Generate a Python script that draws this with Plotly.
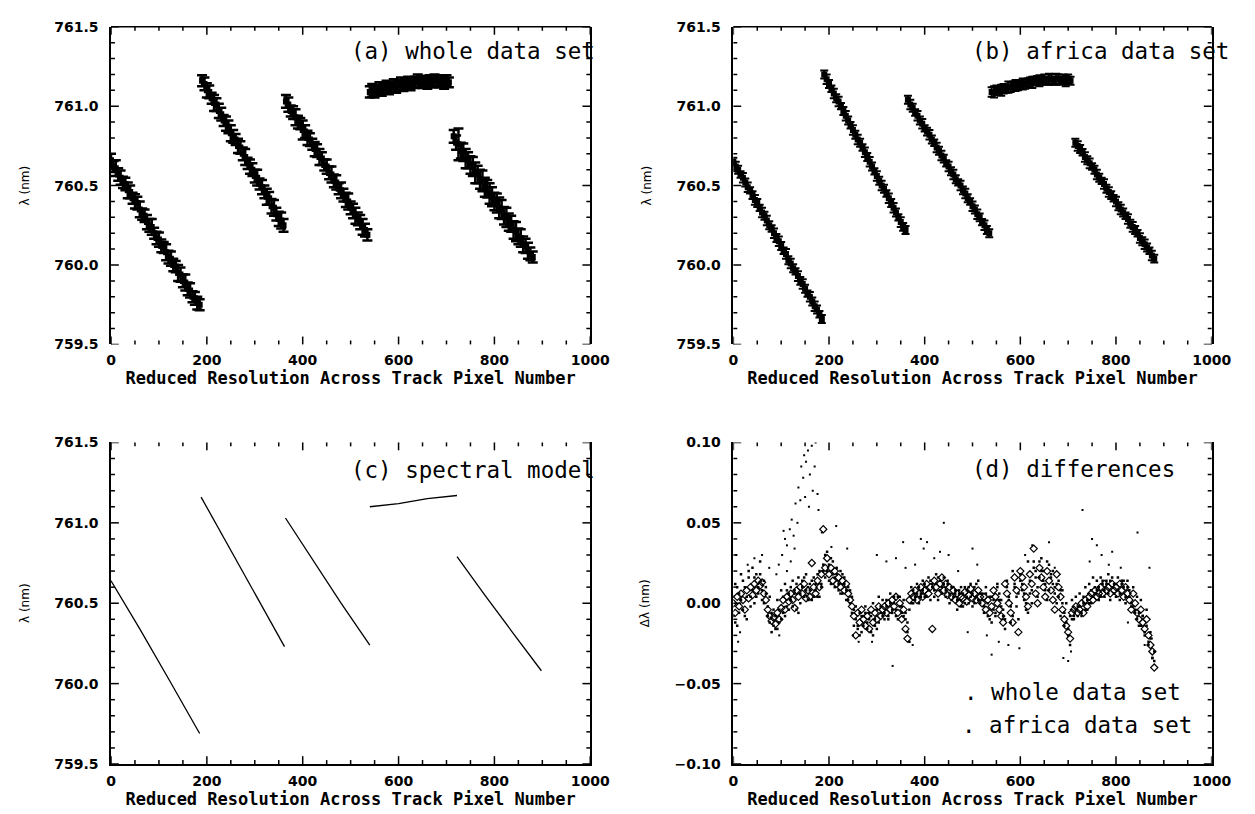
import plotly.graph_objects as go

# ---------------- data ----------------
# across-track pixel positions of the fitted line positions (panels a, b)
pix_x = list(range(0, 710, 5)) + list(range(715, 885, 5))

# (a) whole data set: fitted O2-A line position (nm) and its uncertainty
whole_lambda = [
    760.66, 760.62, 760.61, 760.57, 760.55, 760.52, 760.51, 760.47, 760.46, 760.42,
    760.40, 760.39, 760.35, 760.32, 760.31, 760.27, 760.25, 760.24, 760.20, 760.17,
    760.16, 760.12, 760.11, 760.08, 760.05, 760.04, 760.00, 759.99, 759.95, 759.94,
    759.90, 759.89, 759.85, 759.84, 759.80, 759.79, 759.76, 759.75,
    761.16, 761.14, 761.10, 761.09, 761.05, 761.02, 761.01, 760.97, 760.95, 760.91,
    760.89, 760.87, 760.83, 760.81, 760.79, 760.75, 760.74, 760.70, 760.68, 760.64,
    760.62, 760.60, 760.56, 760.55, 760.51, 760.49, 760.46, 760.43, 760.42, 760.37,
    760.36, 760.32, 760.29, 760.28, 760.25,
    761.03, 761.01, 760.97, 760.96, 760.93, 760.90, 760.89, 760.85, 760.84, 760.80,
    760.79, 760.76, 760.73, 760.72, 760.68, 760.67, 760.63, 760.62, 760.58, 760.57,
    760.53, 760.52, 760.48, 760.47, 760.44, 760.41, 760.40, 760.36, 760.34, 760.31,
    760.29, 760.27, 760.24, 760.22, 760.19,
    761.09, 761.10, 761.09, 761.10, 761.11, 761.10, 761.11, 761.12, 761.11, 761.12,
    761.13, 761.12, 761.13, 761.14, 761.13, 761.14, 761.15, 761.14, 761.15, 761.15,
    761.16, 761.15, 761.15, 761.16, 761.15, 761.16, 761.15, 761.16, 761.16, 761.15,
    761.16, 761.15, 761.16, 761.15,
    760.81, 760.77, 760.76, 760.72, 760.71, 760.67, 760.66, 760.63, 760.62, 760.58,
    760.57, 760.54, 760.53, 760.49, 760.48, 760.45, 760.43, 760.40, 760.39, 760.36,
    760.35, 760.31, 760.30, 760.27, 760.26, 760.22, 760.21, 760.18, 760.17, 760.13,
    760.12, 760.09, 760.07, 760.05,
]
whole_err = [
    0.04, 0.035, 0.05, 0.04, 0.045, 0.035, 0.04, 0.05, 0.04, 0.035,
    0.045, 0.04, 0.05, 0.035, 0.04, 0.045, 0.04, 0.05, 0.035, 0.04,
    0.045, 0.04, 0.035, 0.05, 0.04, 0.045, 0.04, 0.035, 0.05, 0.045,
    0.04, 0.05, 0.04, 0.045, 0.035, 0.04, 0.04, 0.035,
    0.035, 0.04, 0.045, 0.04, 0.035, 0.05, 0.04, 0.045, 0.04, 0.035,
    0.045, 0.04, 0.05, 0.04, 0.035, 0.045, 0.04, 0.04, 0.05, 0.035,
    0.045, 0.04, 0.04, 0.05, 0.035, 0.045, 0.04, 0.05, 0.04, 0.045,
    0.05, 0.04, 0.045, 0.05, 0.04,
    0.04, 0.045, 0.035, 0.04, 0.05, 0.04, 0.035, 0.06, 0.04, 0.045,
    0.04, 0.035, 0.045, 0.04, 0.05, 0.04, 0.035, 0.045, 0.04, 0.05,
    0.04, 0.045, 0.035, 0.05, 0.04, 0.045, 0.05, 0.04, 0.045, 0.05,
    0.04, 0.045, 0.05, 0.04, 0.035,
    0.035, 0.04, 0.035, 0.03, 0.04, 0.035, 0.03, 0.04, 0.035, 0.03,
    0.04, 0.035, 0.03, 0.04, 0.035, 0.03, 0.035, 0.04, 0.03, 0.035,
    0.04, 0.03, 0.035, 0.03, 0.04, 0.035, 0.03, 0.04, 0.035, 0.03,
    0.035, 0.04, 0.035, 0.03,
    0.04, 0.045, 0.10, 0.05, 0.055, 0.06, 0.05, 0.055, 0.06, 0.065,
    0.055, 0.06, 0.065, 0.06, 0.055, 0.065, 0.06, 0.055, 0.06, 0.065,
    0.06, 0.055, 0.06, 0.055, 0.05, 0.055, 0.06, 0.05, 0.055, 0.05,
    0.045, 0.05, 0.04, 0.035,
]

# (b) africa data set
africa_lambda = [
    760.65, 760.62, 760.60, 760.57, 760.55, 760.52, 760.49, 760.47, 760.44, 760.41,
    760.39, 760.36, 760.33, 760.31, 760.28, 760.25, 760.23, 760.20, 760.17, 760.15,
    760.12, 760.09, 760.07, 760.03, 760.01, 759.98, 759.96, 759.93, 759.90, 759.88,
    759.85, 759.82, 759.80, 759.77, 759.74, 759.72, 759.69, 759.66,
    761.20, 761.17, 761.14, 761.11, 761.08, 761.05, 761.03, 761.00, 760.97, 760.94,
    760.91, 760.88, 760.85, 760.82, 760.79, 760.77, 760.74, 760.71, 760.68, 760.65,
    760.62, 760.59, 760.56, 760.53, 760.50, 760.48, 760.45, 760.42, 760.39, 760.36,
    760.33, 760.30, 760.27, 760.24, 760.22,
    761.04, 761.01, 760.99, 760.96, 760.94, 760.91, 760.89, 760.86, 760.84, 760.82,
    760.79, 760.77, 760.74, 760.72, 760.69, 760.67, 760.64, 760.62, 760.59, 760.57,
    760.54, 760.52, 760.50, 760.47, 760.45, 760.42, 760.40, 760.37, 760.35, 760.32,
    760.30, 760.27, 760.25, 760.22, 760.20,
    761.09, 761.09, 761.10, 761.10, 761.10, 761.11, 761.11, 761.12, 761.12, 761.13,
    761.13, 761.13, 761.14, 761.14, 761.14, 761.15, 761.15, 761.15, 761.16, 761.16,
    761.16, 761.16, 761.17, 761.16, 761.17, 761.17, 761.16, 761.17, 761.17, 761.16,
    761.17, 761.16, 761.17, 761.16,
    760.77, 760.75, 760.73, 760.71, 760.68, 760.66, 760.64, 760.62, 760.60, 760.57,
    760.55, 760.53, 760.51, 760.48, 760.46, 760.44, 760.42, 760.40, 760.37, 760.35,
    760.33, 760.31, 760.29, 760.26, 760.24, 760.22, 760.20, 760.17, 760.15, 760.13,
    760.11, 760.09, 760.06, 760.04,
]
africa_err = [
    0.025, 0.03, 0.025, 0.02, 0.03, 0.025, 0.03, 0.02, 0.025, 0.03,
    0.025, 0.02, 0.03, 0.025, 0.03, 0.025, 0.02, 0.03, 0.025, 0.03,
    0.025, 0.02, 0.03, 0.025, 0.03, 0.025, 0.02, 0.03, 0.025, 0.03,
    0.025, 0.02, 0.03, 0.025, 0.03, 0.025, 0.02, 0.025,
    0.025, 0.03, 0.025, 0.02, 0.03, 0.025, 0.03, 0.02, 0.025, 0.03,
    0.025, 0.02, 0.03, 0.025, 0.03, 0.025, 0.02, 0.03, 0.025, 0.03,
    0.025, 0.02, 0.03, 0.025, 0.03, 0.025, 0.02, 0.03, 0.025, 0.03,
    0.025, 0.02, 0.03, 0.025, 0.025,
    0.025, 0.03, 0.025, 0.02, 0.03, 0.025, 0.03, 0.02, 0.025, 0.03,
    0.025, 0.02, 0.03, 0.025, 0.03, 0.025, 0.02, 0.03, 0.025, 0.03,
    0.025, 0.02, 0.03, 0.025, 0.03, 0.025, 0.02, 0.03, 0.025, 0.03,
    0.025, 0.02, 0.03, 0.025, 0.025,
    0.03, 0.035, 0.03, 0.025, 0.035, 0.03, 0.025, 0.035, 0.03, 0.025,
    0.035, 0.03, 0.025, 0.035, 0.03, 0.025, 0.03, 0.035, 0.025, 0.03,
    0.035, 0.025, 0.03, 0.025, 0.035, 0.03, 0.025, 0.035, 0.03, 0.025,
    0.03, 0.035, 0.03, 0.025,
    0.025, 0.03, 0.025, 0.02, 0.03, 0.025, 0.03, 0.02, 0.025, 0.03,
    0.025, 0.02, 0.03, 0.025, 0.03, 0.025, 0.02, 0.03, 0.025, 0.03,
    0.025, 0.02, 0.03, 0.025, 0.03, 0.025, 0.02, 0.03, 0.025, 0.03,
    0.025, 0.02, 0.03, 0.025,
]

# (c) spectral model (line segments, None = break between detector modules)
model_x = [0, 60, 120, 185, None, 188, 250, 300, 362, None,
           364, 420, 480, 540, None, 540, 600, 660, 722, None,
           722, 780, 840, 898]
model_y = [760.64, 760.34, 760.03, 759.69, None, 761.16, 760.83, 760.56, 760.23, None,
           761.03, 760.77, 760.50, 760.24, None, 761.10, 761.12, 761.15, 761.17, None,
           760.79, 760.55, 760.31, 760.08]

# (d) differences (nm) on a 4-pixel grid
diff_x = list(range(0, 884, 4))
diff_africa = [
    0.000, -0.006, 0.004, -0.002, 0.006, 0.002, -0.004, 0.008, 0.003, 0.010,
    0.005, 0.012, 0.008, 0.014, 0.011, 0.013, 0.006, 0.002, -0.004, -0.008,
    -0.011, -0.009, -0.013, -0.006, -0.010, -0.003, 0.002, -0.004, 0.004, 0.001,
    0.006, 0.002, -0.003, 0.008, 0.004, 0.010, 0.006, 0.012, 0.003, 0.008,
    0.004, 0.025, 0.010, 0.006, 0.014, 0.010, 0.018, 0.046, 0.022, 0.028,
    0.018, 0.022, 0.014, 0.020, 0.012, 0.016, 0.010, 0.014, 0.008, 0.012,
    0.006, 0.002, -0.002, -0.008, -0.020, -0.006, -0.012, -0.004, -0.010, -0.014,
    -0.008, -0.016, -0.004, -0.012, -0.006, -0.010, -0.002, -0.008, -0.004, -0.002,
    -0.006, 0.000, -0.004, 0.002, -0.002, 0.004, -0.006, 0.000, -0.010, -0.004,
    -0.016, -0.022, 0.002, 0.006, 0.004, 0.008, 0.002, 0.006, 0.010, 0.004,
    0.008, 0.012, 0.006, 0.010, -0.016, 0.014, 0.010, 0.006, 0.012, 0.016,
    0.008, 0.012, 0.005, 0.010, 0.004, 0.008, 0.002, 0.006, 0.000, 0.004,
    0.003, 0.007, 0.001, 0.005, 0.009, 0.003, 0.006, 0.002, 0.008, 0.004,
    0.000, 0.004, -0.004, 0.002, -0.006, -0.002, 0.008, 0.004, 0.000, -0.004,
    -0.008, -0.012, 0.012, 0.006, 0.000, -0.006, -0.012, 0.016, 0.008, -0.018,
    0.020, 0.016, 0.010, 0.004, -0.002, 0.018, 0.012, 0.034, 0.006, 0.000,
    0.022, 0.016, 0.010, 0.004, 0.020, 0.014, 0.008, 0.002, -0.004, 0.018,
    0.010, 0.004, -0.004, -0.010, -0.014, -0.018, -0.022, -0.006, -0.004, -0.002,
    -0.006, -0.004, 0.000, -0.006, 0.002, -0.002, 0.004, 0.006, 0.002, 0.008,
    0.004, 0.006, 0.010, 0.006, 0.012, 0.008, 0.010, 0.006, 0.012, 0.008,
    0.010, 0.006, 0.012, 0.008, 0.004, 0.010, 0.006, 0.002, -0.004, 0.006,
    0.000, -0.006, -0.010, -0.004, -0.012, -0.016, -0.010, -0.020, -0.026, -0.030,
    -0.040,
]
diff_whole = [
    -0.008, 0.012, -0.014, 0.006, 0.018, -0.004, 0.010, -0.010, 0.016, 0.004,
    0.022, 0.000, 0.018, 0.006, 0.026, 0.002, 0.014, 0.010, -0.002, 0.004,
    -0.018, -0.004, -0.016, 0.002, -0.012, 0.008, -0.006, 0.012, -0.002, 0.006,
    0.002, 0.014, 0.008, -0.004, 0.016, 0.000, 0.014, 0.004, 0.018, 0.010,
    0.012, 0.002, 0.016, 0.008, 0.004, 0.020, 0.012, 0.024, 0.016, 0.032,
    0.024, 0.012, 0.026, 0.010, 0.018, 0.008, 0.020, 0.006, 0.016, 0.002,
    0.010, 0.000, 0.004, -0.014, -0.002, -0.016, -0.006, -0.018, -0.008, -0.002,
    -0.012, -0.006, -0.018, 0.000, -0.010, -0.016, 0.004, -0.006, 0.002, -0.010,
    0.002, -0.008, 0.006, -0.004, 0.000, -0.008, 0.004, -0.002, -0.006, 0.002,
    -0.010, -0.018, -0.004, 0.010, 0.000, 0.004, 0.012, 0.000, 0.006, 0.014,
    0.004, 0.010, 0.016, 0.002, 0.012, 0.008, 0.018, 0.002, 0.014, 0.006,
    0.016, 0.004, 0.012, 0.000, 0.010, 0.004, 0.008, -0.004, 0.006, 0.010,
    -0.002, 0.010, 0.004, 0.000, 0.012, -0.002, 0.010, 0.004, 0.014, 0.000,
    0.006, -0.002, 0.010, -0.008, 0.004, -0.012, 0.002, -0.006, 0.012, 0.006,
    0.002, -0.004, -0.010, 0.014, 0.002, -0.012, 0.020, 0.010, -0.002, 0.006,
    0.014, 0.008, 0.002, -0.004, 0.026, 0.006, 0.000, 0.022, 0.016, 0.010,
    0.016, 0.028, 0.020, 0.012, 0.026, 0.008, 0.016, 0.020, 0.010, 0.012,
    0.004, -0.008, 0.008, -0.014, 0.000, -0.020, -0.008, 0.002, -0.010, 0.004,
    -0.002, 0.006, -0.008, 0.004, 0.010, -0.004, 0.012, 0.000, 0.016, 0.010,
    0.014, 0.002, 0.016, 0.012, 0.004, 0.014, 0.018, 0.002, 0.016, 0.012,
    0.004, 0.016, 0.002, 0.014, 0.010, 0.000, 0.014, 0.008, -0.002, 0.010,
    -0.006, 0.004, -0.014, 0.002, -0.008, -0.020, -0.004, -0.026, -0.018, -0.034,
    -0.030,
]
diff_whole_rep = [
    0.004, -0.012, 0.010, -0.006, 0.002, 0.014, -0.008, 0.004, 0.020, -0.002,
    0.008, 0.016, 0.004, 0.010, 0.018, 0.008, 0.000, 0.006, -0.008, -0.012,
    -0.006, -0.014, -0.008, -0.016, -0.004, -0.010, 0.004, -0.008, 0.008, -0.004,
    0.010, -0.002, 0.006, 0.012, -0.006, 0.006, 0.010, 0.016, 0.008, 0.002,
    0.008, 0.014, 0.004, 0.012, 0.018, 0.004, 0.010, 0.020, 0.030, 0.020,
    0.014, 0.028, 0.018, 0.016, 0.022, 0.012, 0.006, 0.018, 0.012, 0.008,
    0.002, 0.008, -0.006, -0.004, -0.010, -0.014, -0.020, -0.008, -0.014, -0.006,
    -0.016, -0.010, -0.008, -0.020, -0.014, -0.004, -0.012, -0.002, -0.008, -0.006,
    -0.002, -0.010, 0.000, -0.006, 0.004, -0.004, -0.010, 0.004, -0.002, -0.008,
    -0.006, -0.012, -0.024, 0.000, 0.008, 0.002, 0.006, 0.010, 0.004, 0.008,
    0.012, 0.004, 0.008, 0.014, 0.010, 0.004, 0.012, 0.016, 0.008, 0.010,
    0.012, 0.008, 0.014, 0.006, 0.002, 0.010, 0.006, 0.002, 0.008, -0.002,
    0.006, 0.000, 0.008, 0.010, 0.004, 0.006, 0.000, 0.012, 0.002, 0.006,
    0.002, -0.006, 0.006, 0.000, -0.010, 0.004, -0.004, -0.008, 0.010, 0.002,
    -0.002, -0.008, -0.016, 0.010, 0.004, -0.002, -0.008, 0.012, 0.004, -0.010,
    0.018, 0.012, 0.006, 0.000, -0.006, 0.014, 0.008, 0.026, 0.020, 0.004,
    0.026, 0.020, 0.014, 0.008, 0.002, 0.024, 0.018, 0.012, 0.006, 0.000,
    0.014, 0.008, 0.000, -0.006, -0.012, -0.016, -0.026, -0.010, -0.008, -0.004,
    -0.008, -0.002, -0.006, 0.000, -0.004, 0.002, 0.000, 0.008, 0.004, 0.006,
    0.008, 0.010, 0.004, 0.014, 0.008, 0.012, 0.006, 0.014, 0.010, 0.006,
    0.012, 0.008, 0.006, 0.012, 0.014, 0.004, 0.010, 0.004, 0.000, -0.002,
    -0.004, -0.010, -0.006, -0.014, -0.008, -0.018, -0.014, -0.024, -0.022, -0.034,
    -0.036,
]
# scattered outliers of the whole data set
out_x = [102, 108, 112, 118, 122, 126, 130, 134, 136, 140, 142, 146, 148, 150, 152,
         156, 158, 160, 164, 166, 170, 172, 176, 178, 112, 120, 95, 90, 105, 128,
         6, 10, 14, 30, 44, 60, 75, 96, 185, 205, 215, 238, 250, 262, 290, 300, 320,
         333, 340, 355, 360, 375, 380, 392, 398, 405, 420, 432, 440, 450, 470, 490,
         500, 510, 530, 540, 555, 575, 598, 610, 625, 660, 672, 690, 700, 706, 730,
         745, 750, 760, 770, 785, 792, 810, 825, 845, 860, 870, 875]
out_y = [0.030, 0.040, 0.036, 0.046, 0.052, 0.042, 0.062, 0.050, 0.072, 0.064,
         0.085, 0.078, 0.092, 0.066, 0.088, 0.095, 0.060, 0.080, 0.098, 0.070,
         0.085, 0.100, 0.068, 0.058, 0.020, 0.026, 0.024, 0.018, 0.045, 0.034,
         0.030, -0.024, -0.018, 0.024, 0.028, 0.030, 0.022, -0.020, 0.044, 0.035,
         0.048, 0.034, -0.020, -0.024, -0.024, 0.030, 0.026, -0.039, 0.028, 0.038,
         0.022, -0.026, 0.024, 0.040, 0.034, 0.038, 0.028, 0.032, 0.050, 0.030,
         0.020, -0.018, 0.034, 0.024, -0.020, -0.032, -0.024, -0.026, -0.028, 0.030,
         0.036, 0.038, 0.022, -0.034, -0.036, -0.030, 0.058, 0.026, 0.040, 0.036,
         0.030, 0.024, 0.032, 0.022, -0.012, 0.044, -0.026, 0.022, -0.022]

# axis tick positions
x_major = [0, 200, 400, 600, 800, 1000]
x_minor = [v for v in range(0, 1001, 50) if v % 200]
lam_major = [759.5, 760.0, 760.5, 761.0, 761.5]
lam_minor = [round(759.5 + 0.1 * i, 1) for i in range(21) if i % 5]
dlam_major = [-0.10, -0.05, 0.00, 0.05, 0.10]
dlam_minor = [round(-0.10 + 0.01 * i, 2) for i in range(21) if i % 5]

# ---------------- layout helpers ----------------
W, H = 1255, 814
FONT = "DejaVu Sans"
MONO = "DejaVu Sans Mono"


def px(x):
    return x / W


def py(y):
    return 1 - y / H


cols = [(100, 589), (735, 1223)]
rows = [(11, 335), (435, 763)]

fig = go.Figure()

ms = dict(mode="markers", showlegend=False, hoverinfo="skip")

fig.add_trace(go.Scatter(x=pix_x, y=whole_lambda, xaxis="x", yaxis="y",
                         marker=dict(symbol="square", size=6, color="black", line=dict(width=0)),
                         error_y=dict(type="data", array=whole_err, color="black",
                                      thickness=2.5, width=5), **ms))
fig.add_trace(go.Scatter(x=pix_x, y=africa_lambda, xaxis="x2", yaxis="y2",
                         marker=dict(symbol="square", size=6, color="black", line=dict(width=0)),
                         error_y=dict(type="data", array=africa_err, color="black",
                                      thickness=2, width=4), **ms))
fig.add_trace(go.Scatter(x=model_x, y=model_y, xaxis="x3", yaxis="y3", mode="lines",
                         line=dict(color="black", width=1.3), showlegend=False,
                         hoverinfo="skip", connectgaps=False))
fig.add_trace(go.Scatter(x=diff_x, y=diff_whole, xaxis="x4", yaxis="y4",
                         marker=dict(symbol="square", size=2.5, color="black", line=dict(width=0)), **ms))
fig.add_trace(go.Scatter(x=diff_x, y=diff_whole_rep, xaxis="x4", yaxis="y4",
                         marker=dict(symbol="square", size=2.5, color="black", line=dict(width=0)), **ms))
fig.add_trace(go.Scatter(x=out_x, y=out_y, xaxis="x4", yaxis="y4",
                         marker=dict(symbol="square", size=2, color="black", line=dict(width=0)), **ms))
fig.add_trace(go.Scatter(x=diff_x, y=diff_africa, xaxis="x4", yaxis="y4",
                         marker=dict(symbol="diamond-open", size=5.5, color="black",
                                     line=dict(width=1.2, color="black")), **ms))

tickfont = dict(family=FONT, size=14, color="black", weight="bold")
titlefont = dict(family=MONO, size=17, color="black", weight="bold")
CLEAR = "rgba(0,0,0,0)"


def xaxis(col, anchor, bottom_line):
    return dict(
        domain=[px(cols[col][0]), px(cols[col][1])], anchor=anchor,
        range=[0, 1000], tickmode="array", tickvals=x_major,
        ticktext=[str(v) for v in x_major],
        showline=bottom_line, linecolor="black", linewidth=1.5, mirror=False,
        ticks="outside", ticklen=3, tickcolor=CLEAR,
        showgrid=False, zeroline=False, tickfont=tickfont,
        title=dict(text="Reduced Resolution Across Track Pixel Number", font=titlefont, standoff=4),
    )


def yaxis(row, anchor, rng, tvals, fmt, title):
    return dict(
        domain=[py(rows[row][1]), py(rows[row][0])], anchor=anchor,
        range=rng, tickmode="array", tickvals=tvals, tickformat=fmt,
        showline=True, linecolor="black", linewidth=1.5, mirror=True,
        ticks="outside", ticklen=8, tickcolor=CLEAR,
        showgrid=False, zeroline=False, tickfont=tickfont,
        title=dict(text=title, font=dict(family=FONT, size=12, color="black"), standoff=22),
    )


fig.update_layout(
    width=W, height=H, autosize=False,
    margin=dict(l=0, r=0, t=0, b=0),
    paper_bgcolor="white", plot_bgcolor="white",
    font=dict(family=FONT, color="black"),
    xaxis=xaxis(0, "y", False),
    yaxis=yaxis(0, "x", [759.5, 761.5], lam_major, ".1f", "λ (nm)"),
    xaxis2=xaxis(1, "y2", False),
    yaxis2=yaxis(0, "x2", [759.5, 761.5], lam_major, ".1f", "λ (nm)"),
    xaxis3=xaxis(0, "y3", True),
    yaxis3=yaxis(1, "x3", [759.5, 761.5], lam_major, ".1f", "λ (nm)"),
    xaxis4=xaxis(1, "y4", True),
    yaxis4=yaxis(1, "x4", [-0.1, 0.1], dlam_major, ".2f", "Δλ (nm)"),
)

shapes = []
# top border lines of the upper panels
for c in cols:
    shapes.append(dict(type="line", xref="paper", yref="paper",
                       x0=px(c[0]), x1=px(c[1]), y0=py(rows[0][0]), y1=py(rows[0][0]),
                       line=dict(color="black", width=1.5)))

# inward tick marks on all four sides of each panel
panels = [("x", "y", 0, 0, lam_major, lam_minor),
          ("x2", "y2", 1, 0, lam_major, lam_minor),
          ("x3", "y3", 0, 1, lam_major, lam_minor),
          ("x4", "y4", 1, 1, dlam_major, dlam_minor)]
MAJ, MIN = 8, 4
tick_line = dict(color="black", width=1.5)
for xr, yr, ci, ri, ymaj, ymin in panels:
    wpx = cols[ci][1] - cols[ci][0]
    hpx = rows[ri][1] - rows[ri][0]
    for vals, L in ((x_major, MAJ), (x_minor, MIN)):
        for v in vals:
            for base, sgn in ((0, 1), (1, -1)):
                shapes.append(dict(type="line", xref=xr, yref=yr + " domain",
                                   x0=v, x1=v, y0=base, y1=base + sgn * L / hpx, line=tick_line))
    for vals, L in ((ymaj, MAJ), (ymin, MIN)):
        for v in vals:
            for base, sgn in ((0, 1), (1, -1)):
                shapes.append(dict(type="line", xref=xr + " domain", yref=yr,
                                   x0=base, x1=base + sgn * L / wpx, y0=v, y1=v, line=tick_line))
fig.update_layout(shapes=shapes)

labels = [
    ("(a) whole data set", 343, 36),
    ("(b) africa data set", 976, 36),
    ("(c) spectral model", 343, 463),
    ("(d) differences", 976, 462),
    (". whole data set", 968, 690),
    (". africa data set", 966, 723),
]
for text, x, y in labels:
    fig.add_annotation(text=text, xref="paper", yref="paper", x=px(x), y=py(y),
                       xanchor="left", yanchor="middle", showarrow=False,
                       font=dict(family=MONO, size=22.5, color="black"))

fig.write_html("out.html")
